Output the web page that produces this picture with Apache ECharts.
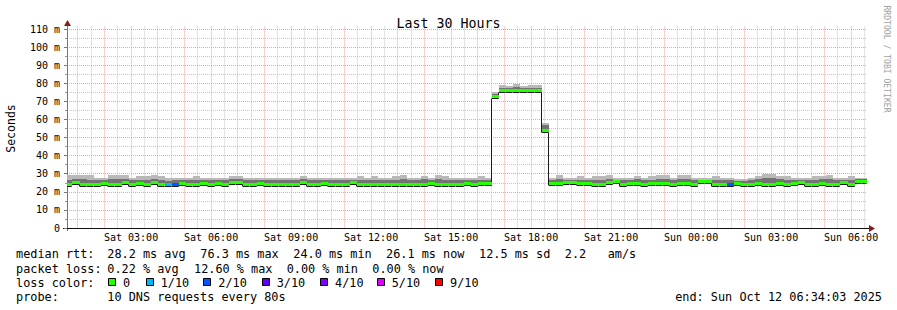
<!DOCTYPE html>
<html><head><meta charset="utf-8">
<script src="https://cdn.jsdelivr.net/npm/echarts@6/dist/echarts.min.js"></script>
<style>html,body{margin:0;padding:0;background:#fff;}#c{width:897px;height:310px;}</style>
</head><body><div id="c"></div>
<script>
// ---------------- data ----------------
// one block = 16 minutes; block 0 starts at 00:32 Sat (hours since Sat 00:00)
const BLOCK0_H = 0.5365;
const BLOCK_H = 16 / 60;
const START_H = 0.5975;   // left edge of plot (Sat 00:35)
const END_H = 30.5975;    // right edge of plot (Sun 06:35)

// median rtt per block (ms)
const MED = [
 24.5,25.7,24.5,24.5,24.5,24.9,24.2,24.2,25.3,24.2,25.0,24.2,25.7,24.2,24.2,24.2,25.0,24.4,24.4,25.0,24.5,25.0,24.5,25.7,25.3,24.2,24.4,24.8,24.4,
 24.2,24.1,24.5,24.5,25.4,24.2,24.2,25.1,24.2,24.5,24.2,25.4,24.5,24.5,24.5,24.5,24.5,24.5,24.5,24.5,24.5,24.5,25.1,24.5,24.2,24.5,24.2,25.1,24.5,
 25.0,24.7,72.8,76.2,76.2,76.3,76.3,76.1,76.1,54.2,
 25.1,24.7,25.4,25.4,24.6,25.1,24.2,24.2,25.2,25.9,24.2,25.1,25.1,24.2,25.1,24.7,25.1,24.5,
 25.1,25.1,24.5,25.8,25.8,24.3,24.5,24.2,25.1,24.5,24.5,25.1,24.2,24.5,25.1,24.4,25.1,25.4,24.5,24.2,25.1,24.2,24.5,25.4,24.2,26.1,26.1
];
// top of the dark smoke band (ms)
const DARK = [
 26.8,26.9,27.0,26.7,26.3,26.4,27.0,26.9,26.9,26.4,26.8,26.6,27.1,26.7,26.2,26.3,26.5,26.4,26.7,26.5,26.3,26.6,26.4,27.0,26.9,26.3,26.5,26.4,26.5,
 26.4,26.3,26.5,26.4,26.9,26.3,26.4,26.6,26.3,26.5,26.4,26.7,26.8,26.4,26.8,26.5,26.4,26.8,27.0,26.5,26.4,26.9,26.6,27.1,26.8,26.4,26.3,26.6,26.4,
 26.8,26.4,74.0,77.5,77.3,77.8,77.2,77.5,77.6,56.7,
 26.5,27.0,26.6,26.5,26.8,26.5,26.7,26.8,27.3,26.8,26.3,26.6,26.9,26.3,26.8,27.0,27.1,26.4,
 27.0,27.1,26.4,26.7,26.8,26.8,26.4,26.3,26.2,26.2,26.4,26.9,27.5,27.6,26.9,26.7,26.5,26.7,26.4,26.8,26.9,27.1,26.4,26.6,26.8,26.9,27.0
];
// top of the smoke (ms)
const TOP = [
 29.1,29.1,29.1,29.1,27.6,27.6,29.1,29.1,29.1,27.6,28.5,28.5,29.1,28.5,27.6,27.6,27.6,27.6,28.5,27.6,27.6,27.6,27.6,28.9,28.9,27.6,27.6,27.6,27.6,
 27.6,27.6,27.6,27.6,28.5,27.6,27.6,27.6,27.6,27.6,27.6,27.6,28.5,27.6,28.5,27.6,27.6,28.5,29.1,27.6,27.6,28.5,27.6,29.1,28.5,27.6,27.6,27.6,27.6,
 28.5,27.6,75.2,79.0,78.5,79.4,78.5,79.0,79.0,58.2,
 27.6,29.1,27.6,27.6,28.5,27.6,28.5,28.5,29.4,27.6,27.6,27.6,28.5,27.6,28.5,29.1,29.1,27.6,
 29.1,29.1,27.6,27.6,27.6,28.5,27.6,27.6,27.1,27.1,27.6,28.5,29.9,29.9,28.5,28.5,27.6,27.6,27.6,28.5,28.5,29.1,27.6,27.6,28.5,27.6,27.6
];
// loss class per block (index into LOSS_COLORS)
const LOSS = [
 0,0,0,0,0,0,0,0,0,0,0,0,0,0,1,2,0,0,0,0,
 0,0,0,0,0,0,0,0,0,0,0,0,0,0,0,0,0,0,0,0,
 0,0,0,0,0,0,0,0,0,0,0,0,0,0,0,0,0,0,0,0,
 0,0,0,0,0,0,0,0,0,0,0,0,0,0,0,0,0,0,0,0,
 0,0,0,0,0,0,0,0,0,0,0,0,0,2,0,0,0,0,0,0,
 0,0,0,0,0,0,0,0,0,0,0,0,0
];
const LOSS_COLORS = ['#26ff00','#00b8ff','#0059ff','#5e00ff','#7e00ff','#dd00ff','#ff0000'];
const LOSS_LABELS = ['0','1/10','2/10','3/10','4/10','5/10','9/10'];

const X_TICK_LABELS = ['Sat 03:00','Sat 06:00','Sat 09:00','Sat 12:00','Sat 15:00','Sat 18:00','Sat 21:00','Sun 00:00','Sun 03:00','Sun 06:00'];
const Y_TICK_LABELS = ['0','10 m','20 m','30 m','40 m','50 m','60 m','70 m','80 m','90 m','100 m','110 m'];

const TITLE = 'Last 30 Hours';
const Y_NAME = 'Seconds';
const LINE_RTT = [['median rtt:',16],['28.2 ms avg',107.3],['76.3 ms max',200.3],['24.0 ms min',293.3],['26.1 ms now',386],['12.5 ms sd',479],['2.2',564.8],['am/s',607.7]];
const LINE_LOSS = [['packet loss:',16],['0.22 % avg',107.3],['12.60 % max',194],['0.00 % min',286.7],['0.00 % now',372.3]];
const LINE_PROBE = [['probe:',16],['10 DNS requests every 80s',107.3]];
const END_TEXT = 'end: Sun Oct 12 06:34:03 2025';
const WATERMARK = 'RRDTOOL / TOBI OETIKER';

// ---------------- layout ----------------
const MONO = "'DejaVu Sans Mono', monospace";
const L = 67, W = 800, T = 29, H = 199;       // plot box
const PXH = W / 30;                           // px per hour
const YMAX = 110, YPX = H / YMAX;
const xh = h => L + (h - START_H) * PXH;
const yv = v => T + H - v * YPX;
const RED = '#f2a0a0', GRAY = '#c6c6c6';

const blocks = MED.map((m, i) => {
  const t0 = Math.max(BLOCK0_H + i * BLOCK_H, START_H);
  const t1 = Math.min(BLOCK0_H + (i + 1) * BLOCK_H, END_H);
  const nxt = i + 1 < MED.length ? MED[i + 1] : m;
  return [t0, t1, m, DARK[i], TOP[i], nxt, LOSS[i]];
});

function smokeItem(p, api) {
  const a = api.coord([api.value(0), api.value(2)]);
  const b = api.coord([api.value(1), api.value(3)]);
  const c = api.coord([api.value(1), api.value(4)]);
  const x0 = Math.round(a[0]), x1 = Math.round(b[0]);
  const ym = Math.round(a[1]), yd = Math.round(b[1]), yt = Math.round(c[1]);
  return {type:'group', children:[
    {type:'rect', shape:{x:x0, y:yt, width:x1-x0, height:yd-yt}, style:{fill:'#b9b9b9'}},
    {type:'rect', shape:{x:x0, y:yd, width:x1-x0, height:ym-yd}, style:{fill:'#737373'}}
  ]};
}
function lineItem(p, api) {
  const a = api.coord([api.value(0), api.value(2)]);
  const b = api.coord([api.value(1), api.value(5)]);
  const x0 = Math.round(a[0]), x1 = Math.round(b[0]) - 0.5;
  const y0 = Math.round(a[1]) + 2.5, y1 = Math.round(b[1]) + 2.5;
  return {type:'polyline', shape:{points:[[x0,y0],[x1,y0],[x1,y1]]}, style:{stroke:'#1c1c1c', lineWidth:1, fill:null}};
}
function bandItem(p, api) {
  const a = api.coord([api.value(0), api.value(2)]);
  const b = api.coord([api.value(1), api.value(2)]);
  const x0 = Math.round(a[0]), x1 = Math.round(b[0]);
  const y = Math.round(a[1]);
  return {type:'rect', shape:{x:x0, y:y-1, width:x1-x0, height:3}, style:{fill:LOSS_COLORS[api.value(6)]}};
}

const grids = [
  {left:L, top:T, width:W, height:H},                                        // 0 data
  {left:L, top:T, width:W, height:H},                                        // 1 horizontal major + y labels
  {left:L, top:yv(105), width:W, height:100*YPX},                            // 2 horizontal minor
  {left:xh(1), top:26.5, width:29*PXH, height:T+H-26.5},                     // 3 vertical major (hourly)
  {left:xh(1.5), top:26.5, width:29*PXH, height:T+H-26.5},                   // 4 vertical minor (half hours)
  {left:xh(3), top:T, width:27*PXH, height:H}                                // 5 x labels (3-hourly)
].map(g => Object.assign({containLabel:false, outerBoundsMode:'none', show:false}, g));

const off = {show:false};
function hidden(gi, max) { return {type:'value', gridIndex:gi, min:0, max:max||1, axisLine:off, axisTick:off, axisLabel:off, splitLine:off}; }
const dotted = c => ({show:true, lineStyle:{color:c, width:1, type:[1,1]}});

const xAxis = [
  {type:'value', gridIndex:0, min:START_H, max:END_H, axisLine:{show:true, lineStyle:{color:'#111', width:1}}, axisTick:off, axisLabel:off, splitLine:off},
  hidden(1), hidden(2),
  {type:'value', gridIndex:3, min:0, max:29, interval:1, axisLine:off, axisTick:off, axisLabel:off, splitLine:dotted(RED)},
  {type:'value', gridIndex:4, min:0, max:29, interval:1, axisLine:off, axisTick:off, axisLabel:off, splitLine:dotted(GRAY)},
  {type:'value', gridIndex:5, min:0, max:9, interval:1, axisLine:off, axisTick:off, splitLine:off,
   axisLabel:{show:true, interval:0, showMinLabel:true, showMaxLabel:true, margin:4, color:'#000', fontFamily:MONO, fontSize:10,
     formatter: v => X_TICK_LABELS[Math.round(v)] || ''}}
];
const yAxis = [
  {type:'value', gridIndex:0, min:0, max:YMAX, axisLine:{show:true, lineStyle:{color:'#777', width:1}}, axisTick:off, axisLabel:off, splitLine:off},
  {type:'value', gridIndex:1, min:0, max:11, interval:1, axisLine:off,
   axisTick:{show:true, length:3, lineStyle:{color:'#777'}}, splitLine:dotted(RED),
   axisLabel:{show:true, showMinLabel:true, showMaxLabel:true, margin:7, color:'#000', fontFamily:MONO, fontSize:10,
     formatter: v => Y_TICK_LABELS[Math.round(v)] || ''}},
  {type:'value', gridIndex:2, min:0, max:10, interval:1, axisLine:off,
   axisTick:{show:true, length:2, lineStyle:{color:'#999'}}, axisLabel:off, splitLine:dotted(GRAY)},
  hidden(3), hidden(4), hidden(5)
];

const txt = (s, x, y, extra) => ({type:'text', x:x, y:y, silent:true,
  style:Object.assign({text:s, fill:'#000', fontFamily:MONO, fontSize:11.85, align:'left', verticalAlign:'middle'}, extra||{})});

const graphic = [];
// axis extensions and arrows
graphic.push({type:'line', shape:{x1:67.5, y1:25, x2:67.5, y2:T}, style:{stroke:'#777', lineWidth:1}});
graphic.push({type:'line', shape:{x1:67.5, y1:T+H, x2:67.5, y2:T+H+3}, style:{stroke:'#777', lineWidth:1}});
graphic.push({type:'line', shape:{x1:63, y1:228.5, x2:L, y2:228.5}, style:{stroke:'#111', lineWidth:1}});
graphic.push({type:'line', shape:{x1:L+W, y1:228.5, x2:870, y2:228.5}, style:{stroke:'#111', lineWidth:1}});
graphic.push({type:'polygon', shape:{points:[[64,26],[71,26],[67.5,20]]}, style:{fill:'#8b1a1a'}});
graphic.push({type:'polygon', shape:{points:[[869,225],[869,232],[875,228.5]]}, style:{fill:'#8b1a1a'}});
// axis name and watermark
graphic.push(txt(Y_NAME, 11, 128.5, {align:'center', fontSize:11.5}));
graphic[graphic.length-1].rotation = Math.PI / 2;
graphic.push(txt(WATERMARK, 887, 59, {align:'center', fontSize:8.1, fill:'#a0a0a0'}));
graphic[graphic.length-1].rotation = -Math.PI / 2;
// legend lines
LINE_RTT.forEach(([s, x]) => graphic.push(txt(s, x, 254)));
LINE_LOSS.forEach(([s, x]) => graphic.push(txt(s, x, 268.5)));
graphic.push(txt('loss color:', 16, 282.5));
const BOX_X = [108, 145.7, 203.3, 261.7, 320, 376.7, 435];
LOSS_LABELS.forEach((s, i) => {
  const bx = Math.round(BOX_X[i]);
  graphic.push({type:'rect', shape:{x:bx+0.5, y:278.5, width:7, height:7}, style:{fill:LOSS_COLORS[i], stroke:'#000', lineWidth:1}});
  graphic.push(txt(s, BOX_X[i] + 15, 282.5));
});
LINE_PROBE.forEach(([s, x]) => graphic.push(txt(s, x, 296.5)));
graphic.push(txt(END_TEXT, 882, 296.5, {align:'right'}));

const chart = echarts.init(document.getElementById('c'), null, {renderer:'svg', width:897, height:310});
chart.setOption({
  animation:false,
  backgroundColor:'#ffffff',
  title:{text:TITLE, left:'center', top:12, textStyle:{fontFamily:MONO, fontSize:13.3, fontWeight:'normal', color:'#000'}},
  grid:grids, xAxis:xAxis, yAxis:yAxis,
  series:[
    {type:'custom', xAxisIndex:0, yAxisIndex:0, z:2, silent:true, renderItem:smokeItem, encode:{x:[0,1], y:[2,3,4]}, data:blocks},
    {type:'custom', xAxisIndex:0, yAxisIndex:0, z:3, silent:true, renderItem:lineItem, encode:{x:[0,1], y:[2,5]}, data:blocks},
    {type:'custom', xAxisIndex:0, yAxisIndex:0, z:4, silent:true, renderItem:bandItem, encode:{x:[0,1], y:[2]}, data:blocks}
  ],
  graphic:graphic
});
</script>
</body></html>
